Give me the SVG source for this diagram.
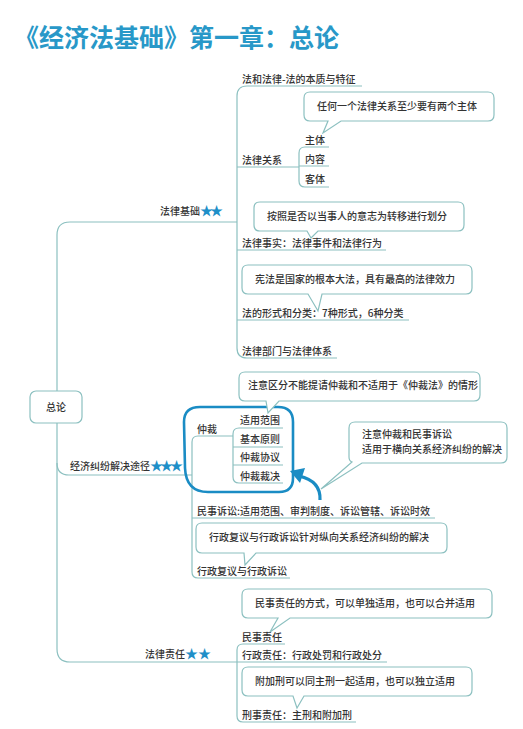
<svg xmlns="http://www.w3.org/2000/svg" width="523" height="729" viewBox="0 0 523 729">
<style>
.t{font-family:"Noto Sans CJK SC","Noto Sans",sans-serif;font-size:10px;fill:#333;font-weight:500}
.ln{fill:none;stroke:#8cc0c0;stroke-width:1.2}
.co{fill:#fff;stroke:#8cc0c0;stroke-width:1.2}
.st{fill:#1e8fc8;font-size:13px}
.title{font-family:"Noto Sans CJK SC","Noto Sans",sans-serif;font-size:25px;font-weight:700;fill:#2898c8}
</style>
<rect width="523" height="729" fill="#fff"/>
<text class="title" x="14" y="47">《经济法基础》第一章：总论</text>

<g id="connectors">
<path class="ln" d="M237,222 H70 Q57,222 57,235 V649 Q57,662 70,662 H387"/>
<path class="ln" d="M57,463 Q57,475 69,475 H192"/>
<path class="ln" d="M362,86 H247 Q237,86 237,96 V348 Q237,358 247,358 H337"/>
<path class="ln" d="M237,167 H299 M237,250 H386 M237,320 H409"/>
<path class="ln" d="M329,147 H305 Q299,147 299,153 V181 Q299,187 305,187 H329 M299,166 H329"/>
<path class="ln" d="M233,436 H198 Q192,436 192,442 V572 Q192,578 198,578 H290 M192,518 H435"/>
<path class="ln" d="M283,428 H239 Q233,428 233,434 V477 Q233,483 239,483 H283 M233,447 H283 M233,465 H283"/>
<path class="ln" d="M285,644 H243 Q237,644 237,650 V716 Q237,722 243,722 H356"/>
<path fill="none" stroke="#1a8cc4" stroke-width="2.6" d="M200,407 H278 Q293,407 293,422 V478 Q293,492 279,492 H208 Q186,492 185,468 L184,422 Q184,407 200,407 Z"/>
<path fill="none" stroke="#1a8cc4" stroke-width="3.2" d="M320,500 Q321,481 299,476"/>
<polygon fill="#1a8cc4" points="290,471 305,468 300,483"/>
</g>

<g id="root"><rect x="30" y="391" width="52" height="32" rx="6" fill="#fff" stroke="#8cc0c0" stroke-width="1.2"/><text class="t" x="56" y="411" text-anchor="middle">总论</text></g>

<g id="n-falvjichu"><text class="t" x="220" y="215" text-anchor="end">法律基础<tspan class="st" letter-spacing="-3">★★</tspan></text></g>
<g id="n-jingji"><text class="t" x="180" y="470" text-anchor="end">经济纠纷解决途径<tspan class="st" letter-spacing="-3">★★★</tspan></text></g>
<g id="n-zeren"><text class="t" x="211" y="658" text-anchor="end">法律责任<tspan class="st">★★</tspan></text></g>

<g id="n-fahefalv"><text class="t" x="242" y="83">法和法律-法的本质与特征</text></g>
<g id="c1"><path class="co" d="M310,92 H488 Q494,92 494,98 V115 Q494,121 488,121 H341 L323,133 L328,121 H310 Q304,121 304,115 V98 Q304,92 310,92 Z"/><text class="t" x="317" y="110">任何一个法律关系至少要有两个主体</text></g>
<g id="n-guanxi"><text class="t" x="242" y="164">法律关系</text></g>
<g id="n-zhuti"><text class="t" x="305" y="144">主体</text></g>
<g id="n-neirong"><text class="t" x="305" y="163">内容</text></g>
<g id="n-keti"><text class="t" x="305" y="183">客体</text></g>

<g id="c2"><path class="co" d="M260,202 H458 Q464,202 464,208 V225 Q464,231 458,231 H318 L311,238 L307,231 H260 Q254,231 254,225 V208 Q254,202 260,202 Z"/><text class="t" x="267" y="220">按照是否以当事人的意志为转移进行划分</text></g>
<g id="n-shishi"><text class="t" x="242" y="247">法律事实：法律事件和法律行为</text></g>

<g id="c3"><path class="co" d="M248,265 H466 Q472,265 472,271 V288 Q472,294 466,294 H322 L318,311 L308,294 H248 Q242,294 242,288 V271 Q242,265 248,265 Z"/><text class="t" x="255" y="283">宪法是国家的根本大法，具有最高的法律效力</text></g>
<g id="n-xingshi"><text class="t" x="242" y="317">法的形式和分类：7种形式，6种分类</text></g>
<g id="n-bumen"><text class="t" x="242" y="355">法律部门与法律体系</text></g>

<g id="c4"><path class="co" d="M245,372 H474 Q480,372 480,378 V395 Q480,401 474,401 H279 L268,413 L266,401 H245 Q239,401 239,395 V378 Q239,372 245,372 Z"/><text class="t" x="248" y="389">注意区分不能提请仲裁和不适用于《仲裁法》的情形</text></g>
<g id="n-zhongcai"><text class="t" x="197" y="433">仲裁</text></g>
<g id="n-fanwei"><text class="t" x="240" y="424">适用范围</text></g>
<g id="n-yuanze"><text class="t" x="240" y="443">基本原则</text></g>
<g id="n-xieyi"><text class="t" x="240" y="461">仲裁协议</text></g>
<g id="n-caijue"><text class="t" x="240" y="480">仲裁裁决</text></g>

<g id="c5"><path class="co" d="M355,422 H501 Q507,422 507,428 V457 Q507,463 501,463 H362 L321,489 L352,462 Q349,461 349,457 V428 Q349,422 355,422 Z"/><text class="t" x="362" y="438">注意仲裁和民事诉讼</text><text class="t" x="362" y="453">适用于横向关系经济纠纷的解决</text></g>
<g id="n-minshi"><text class="t" x="197" y="515">民事诉讼:适用范围、审判制度、诉讼管辖、诉讼时效</text></g>

<g id="c6"><path class="co" d="M202,523 H441 Q447,523 447,529 V547 Q447,553 441,553 H256 L245,565 L244,553 H202 Q196,553 196,547 V529 Q196,523 202,523 Z"/><text class="t" x="209" y="541">行政复议与行政诉讼针对纵向关系经济纠纷的解决</text></g>
<g id="n-xingzheng"><text class="t" x="197" y="575">行政复议与行政诉讼</text></g>

<g id="c7"><path class="co" d="M248,589 H486 Q492,589 492,595 V612 Q492,618 486,618 H290 L270,632 L278,618 H248 Q242,618 242,612 V595 Q242,589 248,589 Z"/><text class="t" x="255" y="607">民事责任的方式，可以单独适用，也可以合并适用</text></g>
<g id="n-minzeren"><text class="t" x="242" y="641">民事责任</text></g>
<g id="n-xzzeren"><text class="t" x="242" y="659">行政责任：行政处罚和行政处分</text></g>

<g id="c8"><path class="co" d="M248,667 H466 Q472,667 472,673 V690 Q472,696 466,696 H304 L297,708 L293,696 H248 Q242,696 242,690 V673 Q242,667 248,667 Z"/><text class="t" x="255" y="685">附加刑可以同主刑一起适用，也可以独立适用</text></g>
<g id="n-xingshizeren"><text class="t" x="242" y="719">刑事责任：主刑和附加刑</text></g>
</svg>
